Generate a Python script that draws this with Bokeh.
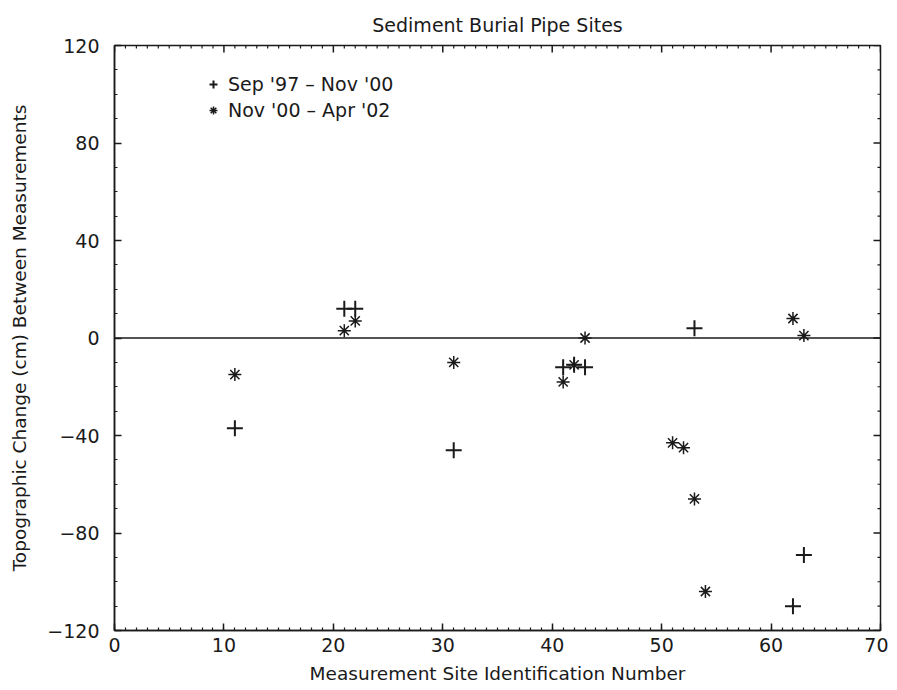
import numpy as np
from bokeh.plotting import figure
from bokeh.models import LinearAxis, SingleIntervalTicker, Span, Legend, LegendItem, Range1d
from bokeh.embed import file_html
from bokeh.resources import INLINE

# Data
site_a = [11, 21, 22, 31, 41, 42, 43, 53, 62, 63]
chg_a = [-37, 12, 12, -46, -12, -11, -12, 4, -110, -89]
label_a = "Sep '97 \u2013 Nov '00"

site_b = [11, 21, 22, 31, 41, 42, 43, 51, 52, 53, 54, 62, 63]
chg_b = [-15, 3, 7, -10, -18, -11, 0, -43, -45, -66, -104, 8, 1]
label_b = "Nov '00 \u2013 Apr '02"

x_min, x_max, x_major, x_minor = 0, 70, 10, 1
y_min, y_max, y_major, y_minor = -120, 120, 40, 10

title_text = "Sediment Burial Pipe Sites"
x_label = "Measurement Site Identification Number"
y_label = "Topographic Change (cm) Between Measurements"

FONT = "DejaVu Sans"
INK = "#1a1a1a"
MAJ, MINr = 7, 3

p = figure(width=888, height=686, output_backend="svg", toolbar_location=None,
           x_range=Range1d(x_min, x_max), y_range=Range1d(y_min, y_max),
           min_border_left=114, min_border_right=8, min_border_top=45, min_border_bottom=55,
           x_axis_location=None, y_axis_location=None)
p.grid.visible = False
p.outline_line_color = INK
p.outline_line_width = 1.5
p.background_fill_color = "white"
p.border_fill_color = "white"

p.title.text = title_text
p.title.align = "center"
p.title.text_font = FONT
p.title.text_font_size = "19px"
p.title.text_font_style = "normal"
p.title.text_color = INK
p.title.standoff = 20


def style_axis(ax):
    ax.axis_line_color = INK
    ax.axis_line_width = 1.5
    ax.major_tick_in = MAJ
    ax.major_tick_out = 0
    ax.minor_tick_in = MINr
    ax.minor_tick_out = 0
    ax.major_tick_line_color = INK
    ax.minor_tick_line_color = INK
    ax.major_tick_line_width = 1.5
    ax.minor_tick_line_width = 1.2
    ax.major_label_text_font = FONT
    ax.major_label_text_font_size = "19px"
    ax.major_label_text_color = INK
    ax.axis_label_text_font = FONT
    ax.axis_label_text_font_style = "normal"
    ax.axis_label_text_color = INK
    ax.axis_label_text_font_size = "18.5px"


xb = LinearAxis(ticker=SingleIntervalTicker(interval=x_major, num_minor_ticks=x_major // x_minor))
style_axis(xb)
xb.axis_label = x_label
xb.major_label_standoff = 7
xb.axis_label_standoff = 8
p.add_layout(xb, "below")

yl = LinearAxis(ticker=SingleIntervalTicker(interval=y_major, num_minor_ticks=y_major // y_minor))
style_axis(yl)
yl.axis_label = y_label
yl.major_label_standoff = 15
yl.axis_label_standoff = 14
p.add_layout(yl, "left")

# tick marks on the top and right edges (frame clips the outer half of each dash)
xt_major = np.arange(x_min, x_max + 1, x_major)
xt_minor = np.setdiff1d(np.arange(x_min, x_max + 1, x_minor), xt_major)
yt_major = np.arange(y_min, y_max + 1, y_major)
yt_minor = np.setdiff1d(np.arange(y_min, y_max + 1, y_minor), yt_major)
p.scatter(xt_major, np.full(len(xt_major), y_max), marker="dash", angle=np.pi / 2,
          size=2 * MAJ, line_color=INK, line_width=1.5)
p.scatter(xt_minor, np.full(len(xt_minor), y_max), marker="dash", angle=np.pi / 2,
          size=2 * MINr, line_color=INK, line_width=1.2)
p.scatter(np.full(len(yt_major), x_max), yt_major, marker="dash",
          size=2 * MAJ, line_color=INK, line_width=1.5)
p.scatter(np.full(len(yt_minor), x_max), yt_minor, marker="dash",
          size=2 * MINr, line_color=INK, line_width=1.2)

p.add_layout(Span(location=0, dimension="width", line_color=INK, line_width=1.6))

ra = p.scatter(site_a, chg_a, marker="cross", size=16, line_color=INK, line_width=2)
rb = p.scatter(site_b, chg_b, marker="asterisk", size=13, line_color=INK, line_width=1.5)

legend = Legend(items=[LegendItem(label=label_a, renderers=[ra]),
                       LegendItem(label=label_b, renderers=[rb])],
                location=(89, 509), border_line_color=None, background_fill_alpha=0,
                padding=0, spacing=4, glyph_width=20, glyph_height=20, label_height=20,
                label_standoff=5, label_text_font=FONT, label_text_font_size="19px",
                label_text_color=INK, margin=0)
p.add_layout(legend, "center")

open("out.html", "w").write(file_html(p, INLINE))
